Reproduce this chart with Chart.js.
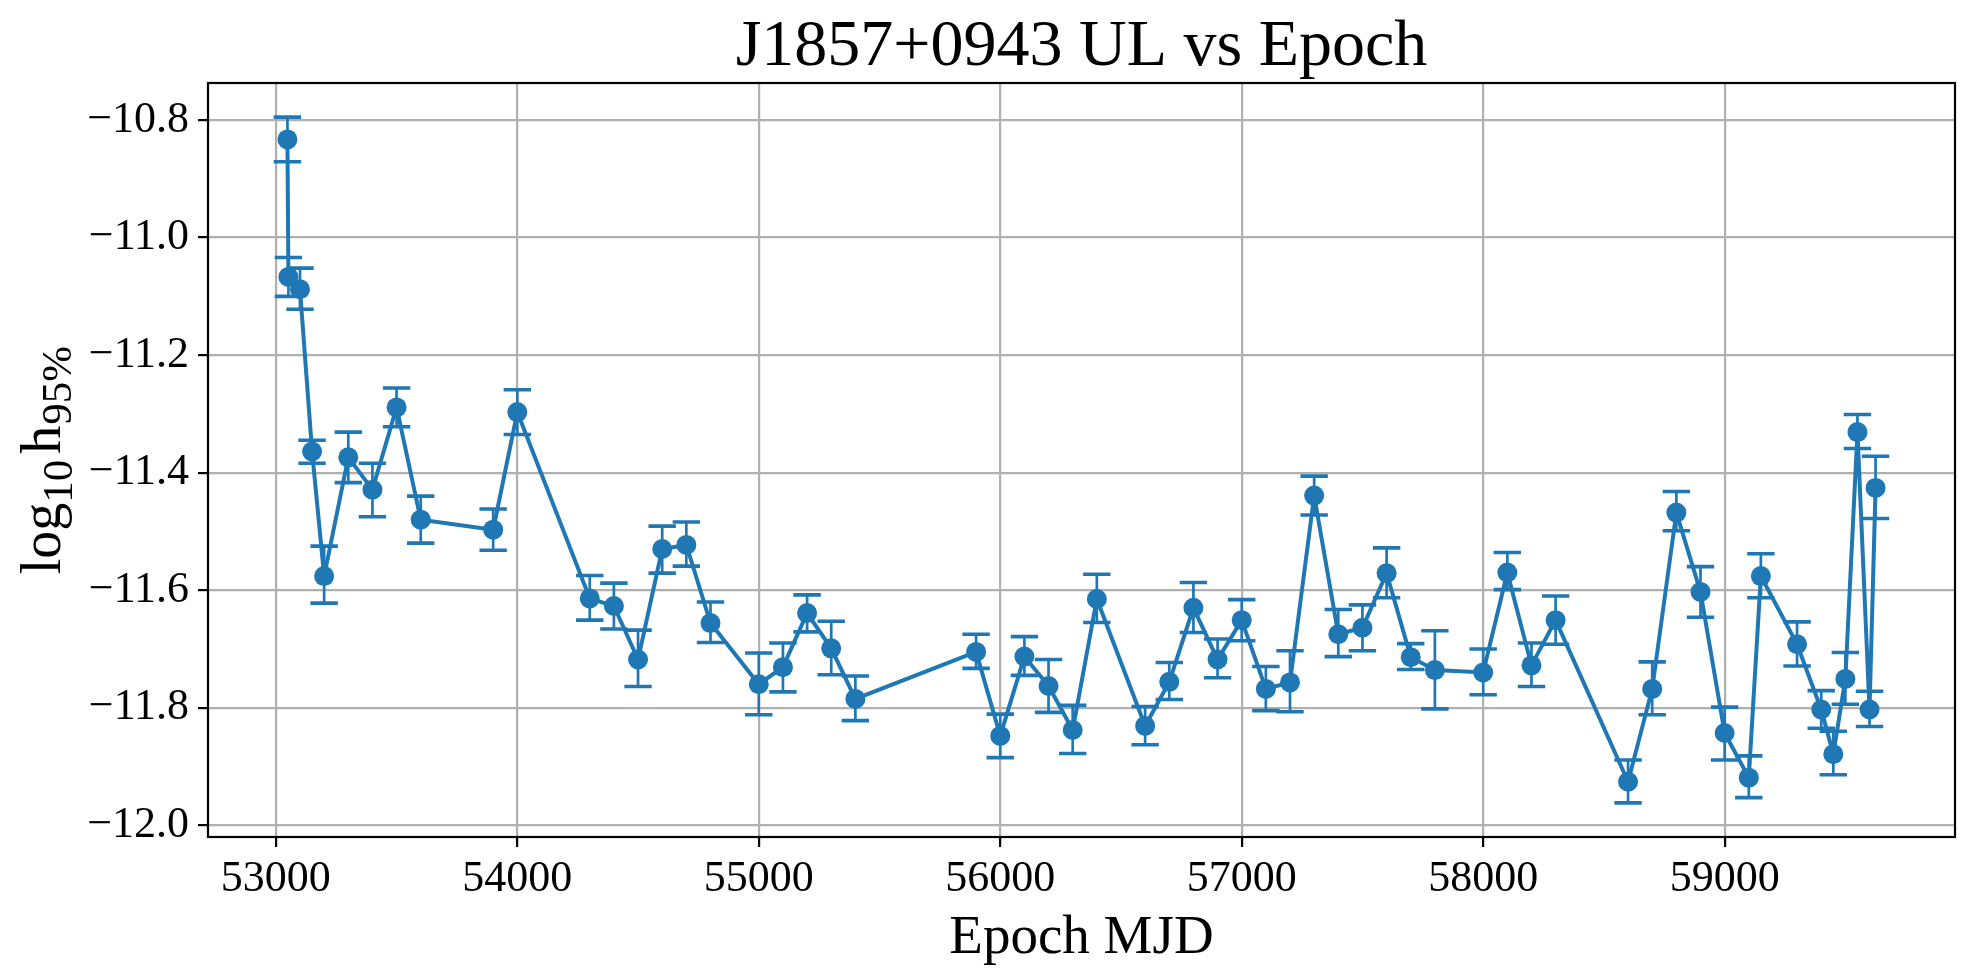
<!DOCTYPE html>
<html>
<head>
<meta charset="utf-8">
<script src="https://cdn.jsdelivr.net/npm/chart.js@4.4.1/dist/chart.umd.min.js"></script>
<style>
  html, body { margin: 0; padding: 0; background: #fff; }
  canvas { display: block; }
</style>
</head>
<body>
<canvas id="grafico" width="1975" height="979"></canvas>
<script>
// epochs (MJD) and the 95% upper limit
const epocas = [53048, 53052, 53100, 53150, 53200, 53300, 53400, 53500, 53600, 53900,
  54000, 54300, 54400, 54500, 54600, 54700, 54800, 55000, 55100, 55200,
  55300, 55400, 55900, 56000, 56100, 56200, 56300, 56400, 56600, 56700,
  56800, 56900, 57000, 57100, 57200, 57300, 57400, 57500, 57600, 57700,
  57800, 58000, 58100, 58200, 58300, 58600, 58700, 58800, 58900, 59000,
  59100, 59150, 59300, 59400, 59450, 59500, 59550, 59600, 59625];

const limites = [-10.833, -11.067, -11.088, -11.364, -11.576, -11.374, -11.429, -11.289, -11.480, -11.497,
  -11.297, -11.614, -11.627, -11.718, -11.530, -11.523, -11.656, -11.760, -11.731, -11.639,
  -11.699, -11.785, -11.705, -11.848, -11.713, -11.763, -11.838, -11.615, -11.831, -11.756,
  -11.630, -11.718, -11.651, -11.768, -11.757, -11.439, -11.675, -11.664, -11.571, -11.714,
  -11.736, -11.740, -11.570, -11.728, -11.651, -11.926, -11.768, -11.468, -11.603, -11.843,
  -11.919, -11.576, -11.692, -11.803, -11.879, -11.751, -11.331, -11.803, -11.426];

// top and bottom of each error bar
const erroCima = [-10.795, -11.034, -11.052, -11.345, -11.525, -11.331, -11.384, -11.256, -11.440, -11.462,
  -11.259, -11.575, -11.588, -11.668, -11.491, -11.484, -11.620, -11.707, -11.690, -11.608,
  -11.653, -11.746, -11.675, -11.811, -11.679, -11.718, -11.796, -11.573, -11.798, -11.723,
  -11.587, -11.683, -11.616, -11.730, -11.703, -11.406, -11.633, -11.625, -11.528, -11.691,
  -11.669, -11.700, -11.536, -11.690, -11.610, -11.889, -11.722, -11.432, -11.560, -11.799,
  -11.882, -11.538, -11.654, -11.771, -11.840, -11.706, -11.301, -11.772, -11.372];

const erroBaixo = [-10.871, -11.100, -11.122, -11.384, -11.622, -11.417, -11.475, -11.322, -11.520, -11.532,
  -11.335, -11.651, -11.666, -11.764, -11.571, -11.559, -11.689, -11.812, -11.773, -11.671,
  -11.744, -11.822, -11.733, -11.885, -11.745, -11.808, -11.878, -11.655, -11.863, -11.786,
  -11.672, -11.749, -11.686, -11.805, -11.807, -11.472, -11.713, -11.703, -11.613, -11.735,
  -11.802, -11.778, -11.599, -11.764, -11.692, -11.962, -11.812, -11.499, -11.646, -11.889,
  -11.953, -11.613, -11.729, -11.835, -11.914, -11.794, -11.359, -11.832, -11.478];

const xTicks = [53000, 54000, 55000, 56000, 57000, 58000, 59000];
const yTicks = [-12.0, -11.8, -11.6, -11.4, -11.2, -11.0, -10.8];
const yTickLabels = ['\u221212.0', '\u221211.8', '\u221211.6', '\u221211.4', '\u221211.2', '\u221211.0', '\u221210.8'];

const azul = '#1f77b4';
const fonte = '"Liberation Serif", "Times New Roman", serif';

// error bars with caps, drawn under the markers
const barrasErro = {
  id: 'barrasErro',
  beforeDatasetsDraw(chart) {
    const ctx = chart.ctx;
    const x = chart.scales.x, y = chart.scales.y;
    const cap = 13.7;
    ctx.save();
    ctx.strokeStyle = azul;
    epocas.forEach((ep, i) => {
      const px = x.getPixelForValue(ep);
      const pTop = y.getPixelForValue(erroCima[i]);
      const pBot = y.getPixelForValue(erroBaixo[i]);
      ctx.lineWidth = 2.7;
      ctx.beginPath();
      ctx.moveTo(px, pTop);
      ctx.lineTo(px, pBot);
      ctx.stroke();
      ctx.lineWidth = 3.6;
      ctx.beginPath();
      ctx.moveTo(px - cap, pTop); ctx.lineTo(px + cap, pTop);
      ctx.moveTo(px - cap, pBot); ctx.lineTo(px + cap, pBot);
      ctx.stroke();
    });
    ctx.restore();
  }
};

// axes frame + y label with subscripts (log10 h95%)
const moldura = {
  id: 'moldura',
  afterDraw(chart) {
    const ctx = chart.ctx;
    const a = chart.chartArea;
    ctx.save();
    ctx.strokeStyle = '#000';
    ctx.lineWidth = 2.2;
    ctx.strokeRect(a.left, a.top, a.right - a.left, a.bottom - a.top);

    const partes = [
      { t: 'log', size: 56, dy: 0, gap: 0 },
      { t: '10', size: 43, dy: 12, gap: 6 },
      { t: 'h', size: 56, dy: 0, gap: 1 },
      { t: '95%', size: 43, dy: 11, gap: 0 }
    ];
    let total = 0;
    partes.forEach(p => {
      ctx.font = p.size + 'px ' + fonte;
      p.w = ctx.measureText(p.t).width;
      total += p.w + p.gap;
    });
    const cy = (a.top + a.bottom) / 2;
    ctx.translate(60, cy);
    ctx.rotate(-Math.PI / 2);
    ctx.fillStyle = '#000';
    ctx.textBaseline = 'alphabetic';
    ctx.textAlign = 'left';
    let pos = -total / 2;
    partes.forEach(p => {
      ctx.font = p.size + 'px ' + fonte;
      ctx.fillText(p.t, pos, p.dy);
      pos += p.w + p.gap;
    });
    ctx.restore();
  }
};

const ctxGrafico = document.getElementById('grafico').getContext('2d');
new Chart(ctxGrafico, {
  type: 'scatter',
  data: {
    datasets: [{
      data: epocas.map((ep, i) => ({ x: ep, y: limites[i] })),
      showLine: true,
      borderColor: azul,
      borderWidth: 4,
      backgroundColor: azul,
      pointRadius: 10,
      pointHoverRadius: 10,
      pointBorderWidth: 0,
      pointBackgroundColor: azul,
      tension: 0
    }]
  },
  options: {
    responsive: false,
    devicePixelRatio: 1,
    animation: false,
    events: [],
    layout: { padding: { left: 0, right: 20, top: 0, bottom: 0 } },
    plugins: {
      legend: { display: false },
      tooltip: { enabled: false },
      title: {
        display: true,
        text: 'J1857+0943 UL vs Epoch',
        color: '#000',
        fullSize: false,
        font: { family: fonte, size: 66, weight: 'normal', lineHeight: 1 },
        padding: { top: 15, bottom: 2 }
      }
    },
    scales: {
      x: {
        type: 'linear',
        min: 52719,
        max: 59954,
        afterBuildTicks: s => { s.ticks = xTicks.map(v => ({ value: v })); },
        afterFit: s => { s.height = 142; },
        ticks: {
          autoSkip: false,
          maxRotation: 0,
          padding: 6,
          color: '#000',
          font: { family: fonte, size: 44 },
          callback: v => String(v)
        },
        grid: {
          color: '#b0b0b0',
          lineWidth: 2.2,
          tickColor: '#000',
          tickWidth: 2.2,
          tickLength: 10
        },
        border: { display: false },
        title: {
          display: true,
          text: 'Epoch MJD',
          color: '#000',
          font: { family: fonte, size: 55, lineHeight: 1 },
          padding: { top: 0, bottom: 13 }
        }
      },
      y: {
        type: 'linear',
        min: -12.020,
        max: -10.737,
        afterBuildTicks: s => { s.ticks = yTicks.map(v => ({ value: v })); },
        afterFit: s => { s.width = 208; },
        ticks: {
          padding: 9,
          color: '#000',
          font: { family: fonte, size: 44 },
          callback: (v, i) => yTickLabels[i]
        },
        grid: {
          color: '#b0b0b0',
          lineWidth: 2.2,
          tickColor: '#000',
          tickWidth: 2.2,
          tickLength: 10
        },
        border: { display: false }
      }
    }
  },
  plugins: [barrasErro, moldura]
});
</script>
</body>
</html>
